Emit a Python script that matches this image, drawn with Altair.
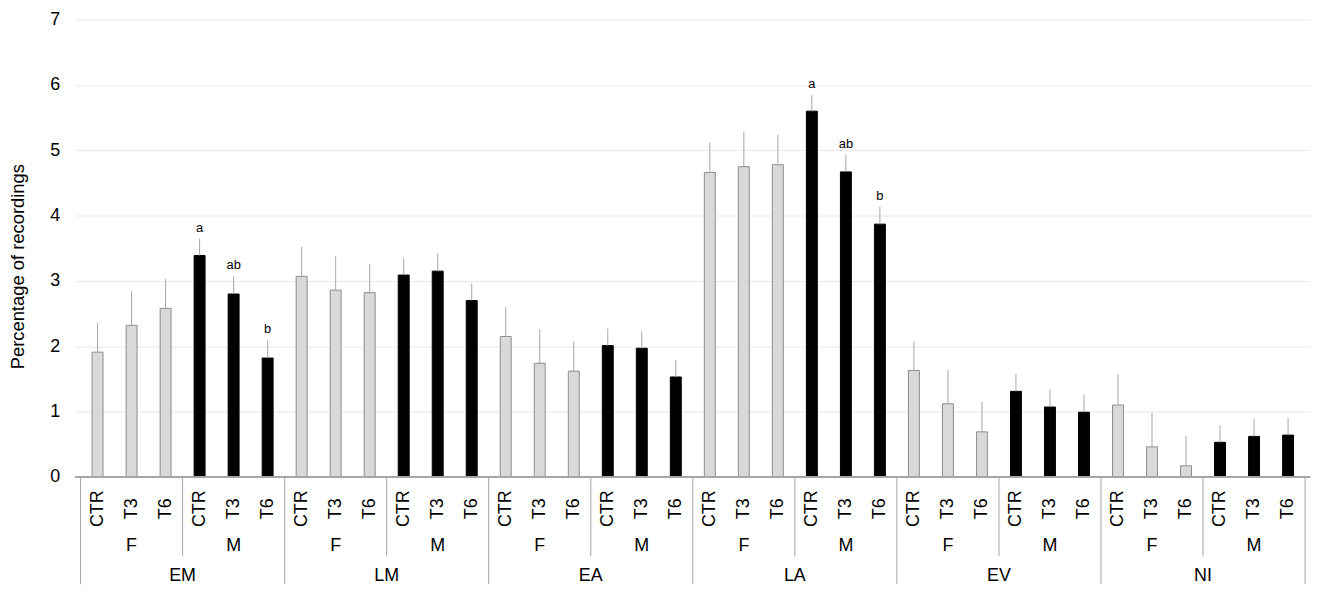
import altair as alt
import pandas as pd

groups = ["EM", "LM", "EA", "LA", "EV", "NI"]
sexes = ["F", "M"]
treatments = ["CTR", "T3", "T6"]

means = [
    1.91, 2.32, 2.58, 3.39, 2.80, 1.82,   # EM
    3.07, 2.86, 2.82, 3.09, 3.15, 2.70,   # LM
    2.15, 1.74, 1.62, 2.01, 1.97, 1.53,   # EA
    4.66, 4.75, 4.78, 5.60, 4.67, 3.87,   # LA
    1.63, 1.12, 0.69, 1.31, 1.07, 0.99,   # EV
    1.10, 0.46, 0.17, 0.53, 0.62, 0.64,   # NI
]
upper = [
    2.36, 2.84, 3.03, 3.65, 3.07, 2.09,
    3.52, 3.38, 3.26, 3.35, 3.42, 2.96,
    2.60, 2.26, 2.07, 2.27, 2.23, 1.79,
    5.12, 5.28, 5.24, 5.85, 4.93, 4.14,
    2.08, 1.64, 1.15, 1.58, 1.34, 1.26,
    1.57, 0.98, 0.62, 0.79, 0.89, 0.90,
]
letters = [
    "", "", "", "a", "ab", "b",
    "", "", "", "", "", "",
    "", "", "", "", "", "",
    "", "", "", "a", "ab", "b",
    "", "", "", "", "", "",
    "", "", "", "", "", "",
]

rows = []
i = 0
for g in groups:
    for s in sexes:
        for t in treatments:
            rows.append(dict(idx=i, group=g, sex=s, trt=t, mean=means[i],
                             upper=upper[i], letter=letters[i]))
            i += 1
df = pd.DataFrame(rows)
df["pos"] = df["idx"] + 0.5

sex_rows = []
for gi, g in enumerate(groups):
    for si, s in enumerate(sexes):
        sex_rows.append(dict(label=s, pos=gi * 6 + si * 3 + 1.5))
sex_df = pd.DataFrame(sex_rows)
grp_df = pd.DataFrame([dict(label=g, pos=gi * 6 + 3) for gi, g in enumerate(groups)])
long_sep = pd.DataFrame([dict(pos=gi * 6) for gi in range(len(groups) + 1)])
short_sep = pd.DataFrame([dict(pos=gi * 6 + 3) for gi in range(len(groups))])

W, H = 1242, 460
FONT = "Liberation Sans"
FS = 18
N = len(df)

xs = alt.X("pos:Q", scale=alt.Scale(domain=[0, N], nice=False, zero=False), axis=None)

base = alt.Chart(df)

bars = base.mark_bar(size=11, strokeWidth=1).encode(
    x=xs,
    y=alt.Y("mean:Q", scale=alt.Scale(domain=[0, 7], nice=False),
            axis=alt.Axis(values=list(range(8)), format="d", title="Percentage of recordings",
                          grid=True, gridColor="#e8e8e8", domain=False, ticks=False,
                          labelFont=FONT, labelFontSize=FS, labelColor="#000000",
                          labelPadding=16, titleFont=FONT, titleFontSize=18.5,
                          titleFontWeight="normal", titleColor="#000000",
                          titleAngle=270, titleX=-58, titleY=248,
                          titleAlign="center", titleBaseline="middle")),
    fill=alt.Fill("sex:N", scale=alt.Scale(domain=sexes, range=["#d9d9d9", "#000000"]), legend=None),
    stroke=alt.Stroke("sex:N", scale=alt.Scale(domain=sexes, range=["#8c8c8c", "#000000"]), legend=None),
)

err = base.mark_rule(color="#a6a6a6", strokeWidth=1).encode(
    x=xs, y="mean:Q", y2="upper:Q"
)

lett = base.mark_text(font=FONT, fontSize=13, baseline="bottom", dy=-4, color="#000000").encode(
    x=xs, y="upper:Q", text="letter:N"
)

axis_line = alt.Chart(df).mark_rule(color="#a6a6a6", strokeWidth=1).encode(
    x=alt.value(0), x2=alt.value(W), y=alt.value(H)
)

trt_text = base.mark_text(font=FONT, fontSize=FS, angle=270, align="center",
                          baseline="middle", color="#000000").encode(
    x=xs, y=alt.value(H + 32), text="trt:N"
)

sex_text = alt.Chart(sex_df).mark_text(font=FONT, fontSize=FS, align="center",
                                       baseline="middle", color="#000000").encode(
    x=xs, y=alt.value(H + 70), text="label:N"
)

grp_text = alt.Chart(grp_df).mark_text(font=FONT, fontSize=FS, align="center",
                                       baseline="middle", color="#000000").encode(
    x=xs, y=alt.value(H + 100), text="label:N"
)

long_rules = alt.Chart(long_sep).mark_rule(color="#a6a6a6", strokeWidth=1).encode(
    x=xs, y=alt.value(H), y2=alt.value(H + 108)
)
short_rules = alt.Chart(short_sep).mark_rule(color="#a6a6a6", strokeWidth=1).encode(
    x=xs, y=alt.value(H), y2=alt.value(H + 80)
)

chart = alt.layer(
    bars, err, lett, axis_line, long_rules, short_rules, trt_text, sex_text, grp_text
).properties(
    width=W, height=H,
    autosize=alt.AutoSizeParams(type="none"),
    padding={"left": 68, "top": 10, "right": 7, "bottom": 110},
).configure_view(stroke=None)

chart.save("out.html", embed_options={"renderer": "svg", "actions": False})
